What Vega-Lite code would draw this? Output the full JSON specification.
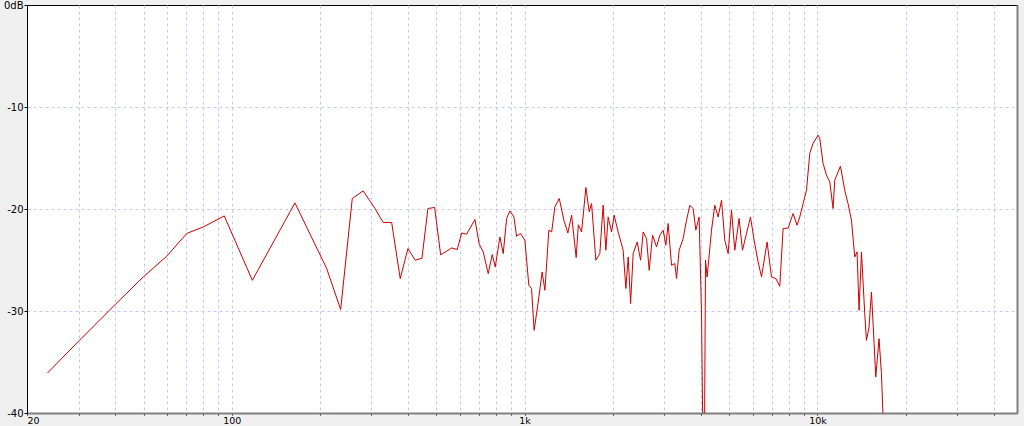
{
  "$schema": "https://vega.github.io/schema/vega-lite/v6.json",
  "width": 990,
  "height": 408,
  "autosize": {"type": "none"},
  "padding": {"left": 27, "top": 5, "right": 7, "bottom": 13},
  "background": "#f0f0f0",
  "config": {
    "view": {"stroke": "#000000", "strokeWidth": 1, "fill": "#ffffff"},
    "axis": {"labelFont": "DejaVu Sans", "labelFontSize": 10, "labelColor": "#000000"}
  },
  "data": {"values": [
    {"f": 23.5, "db": -36.08}, {"f": 30.2, "db": -32.88}, {"f": 40.3, "db": -29.27}, {"f": 49.9, "db": -26.66},
    {"f": 60.0, "db": -24.63}, {"f": 70.2, "db": -22.40}, {"f": 80.0, "db": -21.76}, {"f": 94.3, "db": -20.68},
    {"f": 117.6, "db": -26.99}, {"f": 164.4, "db": -19.40}, {"f": 211, "db": -25.84}, {"f": 235.5, "db": -29.86},
    {"f": 258, "db": -18.97}, {"f": 281, "db": -18.22}, {"f": 308.4, "db": -19.95}, {"f": 329, "db": -21.32},
    {"f": 351.6, "db": -21.32}, {"f": 376.2, "db": -26.82}, {"f": 399.6, "db": -23.88}, {"f": 423.3, "db": -25.02},
    {"f": 446.2, "db": -24.83}, {"f": 467.7, "db": -19.95}, {"f": 493, "db": -19.85}, {"f": 516.9, "db": -24.50},
    {"f": 563.6, "db": -23.82}, {"f": 588.8, "db": -23.97}, {"f": 609.6, "db": -22.35}, {"f": 633.9, "db": -22.47},
    {"f": 676.7, "db": -21.03}, {"f": 699.9, "db": -23.45}, {"f": 722.3, "db": -24.21}, {"f": 751.3, "db": -26.33},
    {"f": 775.3, "db": -24.47}, {"f": 794, "db": -25.68}, {"f": 823.7, "db": -22.74}, {"f": 845.3, "db": -24.37},
    {"f": 868.2, "db": -20.93}, {"f": 891, "db": -20.19}, {"f": 919.5, "db": -20.78}, {"f": 939, "db": -22.67},
    {"f": 969, "db": -22.40}, {"f": 1002, "db": -23.06}, {"f": 1034, "db": -27.48}, {"f": 1056, "db": -27.80},
    {"f": 1078, "db": -31.89}, {"f": 1113, "db": -29.12}, {"f": 1148, "db": -26.17}, {"f": 1173, "db": -27.97},
    {"f": 1210, "db": -22.08}, {"f": 1237, "db": -22.25}, {"f": 1269, "db": -19.79}, {"f": 1313, "db": -18.97},
    {"f": 1362, "db": -21.10}, {"f": 1405, "db": -22.35}, {"f": 1447, "db": -20.61}, {"f": 1500, "db": -24.76},
    {"f": 1526, "db": -21.54}, {"f": 1565, "db": -22.25}, {"f": 1619, "db": -17.89}, {"f": 1662, "db": -20.28},
    {"f": 1693, "db": -19.46}, {"f": 1751, "db": -25.02}, {"f": 1807, "db": -24.37}, {"f": 1854, "db": -19.63},
    {"f": 1894, "db": -24.04}, {"f": 1929, "db": -20.78}, {"f": 1981, "db": -22.25}, {"f": 2022, "db": -20.61},
    {"f": 2087, "db": -22.25}, {"f": 2170, "db": -24.04}, {"f": 2217, "db": -27.80}, {"f": 2258, "db": -24.70},
    {"f": 2301, "db": -29.27}, {"f": 2348, "db": -24.37}, {"f": 2423, "db": -23.23}, {"f": 2489, "db": -25.02},
    {"f": 2540, "db": -22.25}, {"f": 2609, "db": -22.90}, {"f": 2663, "db": -26.01}, {"f": 2735, "db": -22.57},
    {"f": 2822, "db": -23.72}, {"f": 2896, "db": -22.57}, {"f": 2972, "db": -22.08}, {"f": 3036, "db": -23.55},
    {"f": 3091, "db": -21.42}, {"f": 3175, "db": -25.52}, {"f": 3258, "db": -25.35}, {"f": 3302, "db": -26.82},
    {"f": 3370, "db": -24.04}, {"f": 3478, "db": -22.90}, {"f": 3572, "db": -21.10}, {"f": 3666, "db": -19.63},
    {"f": 3762, "db": -19.95}, {"f": 3843, "db": -22.08}, {"f": 3944, "db": -20.78}, {"f": 4019, "db": -30.26},
    {"f": 4070, "db": -45}, {"f": 4109, "db": -45}, {"f": 4147, "db": -25.02}, {"f": 4200, "db": -26.66},
    {"f": 4347, "db": -22.08}, {"f": 4461, "db": -19.63}, {"f": 4579, "db": -20.78}, {"f": 4703, "db": -19.14},
    {"f": 4826, "db": -23.06}, {"f": 4953, "db": -24.37}, {"f": 5087, "db": -20.12}, {"f": 5220, "db": -24.04},
    {"f": 5400, "db": -20.93}, {"f": 5546, "db": -24.04}, {"f": 5723, "db": -22.40}, {"f": 5906, "db": -20.78},
    {"f": 6076, "db": -23.06}, {"f": 6271, "db": -25.19}, {"f": 6441, "db": -26.66}, {"f": 6730, "db": -23.23},
    {"f": 6966, "db": -26.66}, {"f": 7206, "db": -26.82}, {"f": 7436, "db": -27.58}, {"f": 7632, "db": -21.91},
    {"f": 7938, "db": -21.88}, {"f": 8255, "db": -20.44}, {"f": 8519, "db": -21.59}, {"f": 8702, "db": -20.78},
    {"f": 8931, "db": -19.46}, {"f": 9173, "db": -18.16}, {"f": 9413, "db": -14.55}, {"f": 9660, "db": -13.57},
    {"f": 10046, "db": -12.76}, {"f": 10181, "db": -13.08}, {"f": 10449, "db": -15.53}, {"f": 10732, "db": -16.68},
    {"f": 11015, "db": -17.34}, {"f": 11303, "db": -19.95}, {"f": 11455, "db": -17.17}, {"f": 11979, "db": -15.80},
    {"f": 12391, "db": -18.16}, {"f": 12715, "db": -19.46}, {"f": 13062, "db": -21.10}, {"f": 13405, "db": -24.70},
    {"f": 13651, "db": -24.21}, {"f": 13868, "db": -29.93}, {"f": 14132, "db": -24.21}, {"f": 14501, "db": -30.26},
    {"f": 14696, "db": -32.88}, {"f": 15000, "db": -31.57}, {"f": 15287, "db": -28.14}, {"f": 15568, "db": -32.55},
    {"f": 15813, "db": -36.48}, {"f": 16226, "db": -32.71}, {"f": 16536, "db": -36.14}, {"f": 16800, "db": -41.5}
  ]},
  "resolve": {"axis": {"y": "independent"}},
  "layer": [
    {
      "mark": {"type": "line", "color": "#cc0000", "strokeWidth": 1, "clip": true, "interpolate": "linear"},
      "encoding": {
        "x": {
          "field": "f", "type": "quantitative",
          "scale": {"type": "log", "domain": [20, 48000], "nice": false},
          "axis": {
            "title": null,
            "values": [20, 30, 40, 50, 60, 70, 80, 90, 100, 200, 300, 400, 500, 600, 700, 800, 900, 1000, 2000, 3000, 4000, 5000, 6000, 7000, 8000, 9000, 10000, 20000, 30000, 40000],
            "labelExpr": "datum.value == 20 ? '20' : datum.value == 100 ? '100' : datum.value == 1000 ? '1k' : datum.value == 10000 ? '10k' : ''",
            "grid": true, "gridColor": "#c8c8f8", "gridDash": [3, 3], "gridWidth": 1,
            "gridOpacity": {"condition": {"test": "datum.value == 20", "value": 0}, "value": 1},
            "domainColor": "#808080", "domainWidth": 2,
            "tickColor": "#000000", "tickSize": 2, "tickWidth": 1,
            "labelFontSize": 9.5, "labelPadding": 0, "labelFlush": true, "labelOverlap": false
          }
        },
        "y": {
          "field": "db", "type": "quantitative",
          "scale": {"domain": [-40, 0], "nice": false, "zero": false},
          "axis": {
            "title": null,
            "values": [0, -10, -20, -30, -40],
            "labelExpr": "datum.value == 0 ? '0dB' : '-' + abs(datum.value)",
            "grid": true, "gridColor": "#c8c8f8", "gridDash": [3, 3], "gridWidth": 1,
            "gridOpacity": {"condition": {"test": "datum.value == 0 || datum.value == -40", "value": 0}, "value": 1},
            "domainColor": "#000000", "domainWidth": 1,
            "tickColor": "#000000", "tickSize": 3, "labelPadding": 1, "labelFlush": false, "labelOverlap": false
          }
        }
      }
    },
    {
      "mark": {"type": "line", "opacity": 0},
      "encoding": {
        "x": {"field": "f", "type": "quantitative", "scale": {"type": "log", "domain": [20, 48000], "nice": false}},
        "y": {
          "field": "db", "type": "quantitative",
          "scale": {"domain": [-40, 0], "nice": false, "zero": false},
          "axis": {"orient": "right", "title": null, "labels": false, "ticks": false, "grid": false, "domainColor": "#808080", "domainWidth": 2}
        }
      }
    }
  ]
}
